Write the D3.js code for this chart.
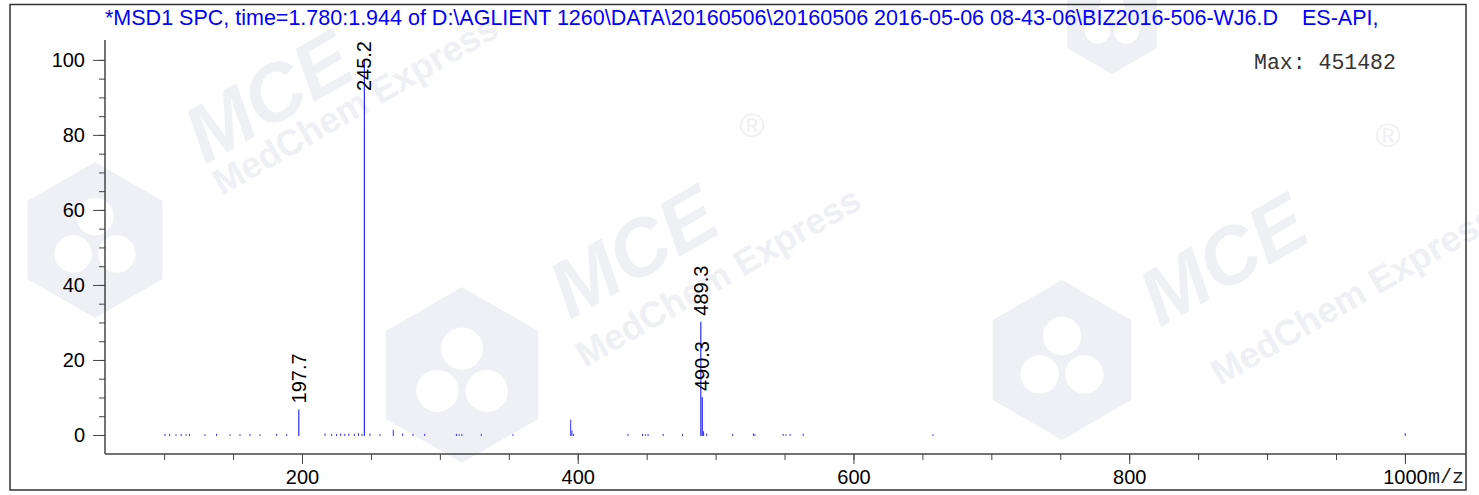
<!DOCTYPE html>
<html>
<head>
<meta charset="utf-8">
<script src="https://cdn.jsdelivr.net/npm/d3@7"></script>
<style>
  body { margin: 0; background: #fff; }
  text { font-family: Arial, "Liberation Sans", sans-serif; }
</style>
</head>
<body>
<svg id="chart" width="1479" height="495"></svg>
<script>
// spectrum header / annotation
const titleText = "*MSD1 SPC, time=1.780:1.944 of D:\\AGLIENT 1260\\DATA\\20160506\\20160506 2016-05-06 08-43-06\\BIZ2016-506-WJ6.D    ES-API,";
const maxText = "Max: 451482";

// labelled peaks (m/z, relative abundance %)
const peakMz = [197.7, 245.2, 489.3, 490.3];
const peakAbund = [6.8, 100, 30.2, 10.1];
const peakLabels = ["197.7", "245.2", "489.3", "490.3"];

// small unlabelled peaks near the baseline
const noiseMz = [100.6, 104, 108.6, 112.3, 115.9, 118.4, 129.6, 138, 147.8, 155, 162.3, 169.5,
  181.6, 188.9, 216.7, 221.5, 225, 228, 231, 234, 238, 241, 243.5, 249.3, 256.6, 266.2, 273,
  280.5, 289, 312, 314, 316, 330, 353, 394.9, 395.8, 397, 436.5, 447, 449, 451, 462, 476,
  491.3, 493.5, 512.4, 527.4, 528.5, 549, 551, 554, 563.5, 657.7, 1000.2];
const noiseAbund = [0.3, 0.3, 0.2, 0.3, 0.2, 0.3, 0.2, 0.3, 0.2, 0.2, 0.3, 0.2,
  0.3, 0.2, 0.4, 0.3, 0.3, 0.4, 0.3, 0.4, 0.3, 0.5, 0.3, 0.4, 0.3, 1.4, 0.4,
  0.3, 0.3, 0.3, 0.2, 0.3, 0.3, 0.2, 4.1, 1.2, 0.3, 0.3, 0.3, 0.2, 0.3, 0.3, 0.3,
  1.0, 0.4, 0.3, 0.4, 0.2, 0.3, 0.2, 0.3, 0.3, 0.2, 0.5];

// axis ticks
const yMajor = [0, 20, 40, 60, 80, 100];
const yMinor = d3.range(0, 101, 5);
const xMajor = [200, 400, 600, 800, 1000];
const xMinor = d3.range(100, 1001, 50);

const svg = d3.select("#chart");
const plotLeft = 105, plotRight = 1466, plotTop = 40, plotBottom = 454;

const x = d3.scaleLinear().domain([57.1, 1044.3]).range([plotLeft, plotRight]);
const y = d3.scaleLinear().domain([-5.07, 105.3]).range([plotBottom, plotTop]);

// faint watermark
drawWatermark();

// outer frame
svg.append("rect")
  .attr("x", 10).attr("y", 4.5)
  .attr("width", 1456).attr("height", 485.5)
  .attr("fill", "none").attr("stroke", "#333").attr("stroke-width", 1.5);

// title
svg.append("text")
  .attr("x", 105).attr("y", 25)
  .attr("fill", "#0000ff")
  .style("font-size", "21.5px")
  .style("white-space", "pre")
  .text(titleText);

// Max label
svg.append("text")
  .attr("x", 1254).attr("y", 69)
  .attr("fill", "#333")
  .style("font-family", "'Courier New', 'Liberation Mono', monospace")
  .style("font-size", "21.5px")
  .text(maxText);

// y axis
svg.append("g")
  .attr("transform", `translate(${plotLeft},0)`)
  .call(d3.axisLeft(y).tickValues(yMinor).tickSize(6).tickFormat(""))
  .call(g => g.select(".domain").remove())
  .selectAll("line").attr("stroke", "#444");

svg.append("g")
  .attr("transform", `translate(${plotLeft},0)`)
  .call(d3.axisLeft(y).tickValues(yMajor).tickSize(12).tickPadding(8))
  .call(g => g.select(".domain").remove())
  .call(g => g.selectAll("line").attr("stroke", "#444"))
  .call(g => g.selectAll("text").attr("fill", "#000").style("font-size", "20px")
    .style("font-family", "Arial, 'Liberation Sans', sans-serif"));

svg.append("line")
  .attr("x1", plotLeft).attr("x2", plotLeft).attr("y1", plotTop).attr("y2", plotBottom)
  .attr("stroke", "#444").attr("stroke-width", 1.5);

// x axis
svg.append("g")
  .attr("transform", `translate(0,${plotBottom})`)
  .call(d3.axisBottom(x).tickValues(xMinor).tickSize(6).tickFormat(""))
  .call(g => g.select(".domain").remove())
  .selectAll("line").attr("stroke", "#444");

svg.append("g")
  .attr("transform", `translate(0,${plotBottom})`)
  .call(d3.axisBottom(x).tickValues(xMajor).tickSize(10).tickPadding(6).tickFormat(d3.format("d")))
  .call(g => g.select(".domain").remove())
  .call(g => g.selectAll("line").attr("stroke", "#444"))
  .call(g => g.selectAll("text").attr("fill", "#000").style("font-size", "20px")
    .style("font-family", "Arial, 'Liberation Sans', sans-serif"));

svg.append("line")
  .attr("x1", plotLeft).attr("x2", plotRight).attr("y1", plotBottom).attr("y2", plotBottom)
  .attr("stroke", "#444").attr("stroke-width", 1.5);

svg.append("text")
  .attr("x", x(1000) + 23).attr("y", 483)
  .attr("fill", "#222")
  .style("font-family", "'Courier New', 'Liberation Mono', monospace")
  .style("font-size", "20px")
  .text("m/z");

// baseline peaks
svg.append("g").selectAll("line")
  .data(noiseMz)
  .enter().append("line")
  .attr("x1", d => x(d)).attr("x2", d => x(d))
  .attr("y1", y(0) + 1)
  .attr("y2", (d, i) => y(noiseAbund[i]))
  .attr("stroke", "#3030ff").attr("stroke-width", 1);

// main peaks
svg.append("g").selectAll("line")
  .data(peakMz)
  .enter().append("line")
  .attr("x1", d => x(d)).attr("x2", d => x(d))
  .attr("y1", y(0) + 1)
  .attr("y2", (d, i) => y(peakAbund[i]))
  .attr("stroke", "#0000ff").attr("stroke-width", 1);

// peak labels, rotated, pushed down when they would leave the plot top
svg.append("g").selectAll("text")
  .data(peakMz)
  .enter().append("text")
  .style("font-size", "20px")
  .attr("fill", "#000")
  .attr("dy", "0.35em")
  .text((d, i) => peakLabels[i])
  .each(function (d, i) {
    const len = this.getComputedTextLength();
    const ly = Math.max(y(peakAbund[i]) - 6, plotTop + 1 + len);
    d3.select(this).attr("transform", `translate(${x(d)},${ly}) rotate(-90)`);
  });

function drawWatermark() {
  const wm = svg.append("g").attr("fill", "#eff0f5");
  const logos = [[95, 240, 78], [462, 375, 88], [1062, 360, 80], [1112, 22, 52]];
  logos.forEach(([cx, cy, r]) => {
    const pts = d3.range(6).map(k => {
      const a = Math.PI / 6 + k * Math.PI / 3;
      return [cx + r * Math.cos(a), cy + r * Math.sin(a)];
    });
    wm.append("path").attr("d", "M" + pts.join("L") + "Z");
    [[0, -0.3], [-0.28, 0.18], [0.28, 0.18]].forEach(([dx, dy]) => {
      wm.append("circle").attr("cx", cx + dx * r).attr("cy", cy + dy * r)
        .attr("r", r * 0.24).attr("fill", "#fff");
    });
  });
  const words = [
    ["MCE", 205, 165, 80], ["MedChem Express", 222, 196, 36],
    ["MCE", 570, 320, 80], ["MedChem Express", 585, 368, 36],
    ["MCE", 1160, 328, 80], ["MedChem Express", 1220, 386, 36]
  ];
  words.forEach(([t, wx, wy, fs]) => {
    wm.append("text")
      .attr("transform", `translate(${wx},${wy}) rotate(-30)`)
      .style("font-size", fs + "px")
      .style("font-weight", "bold")
      .style("font-style", t === "MCE" ? "italic" : "normal")
      .attr("fill", "#eef0f4")
      .text(t);
  });
  [[752, 125], [1388, 135]].forEach(([rx, ry]) => {
    wm.append("text").attr("x", rx).attr("y", ry)
      .attr("text-anchor", "middle").attr("dy", "0.35em")
      .style("font-size", "34px").attr("fill", "#eef0f4").text("®");
  });
}
</script>
</body>
</html>
